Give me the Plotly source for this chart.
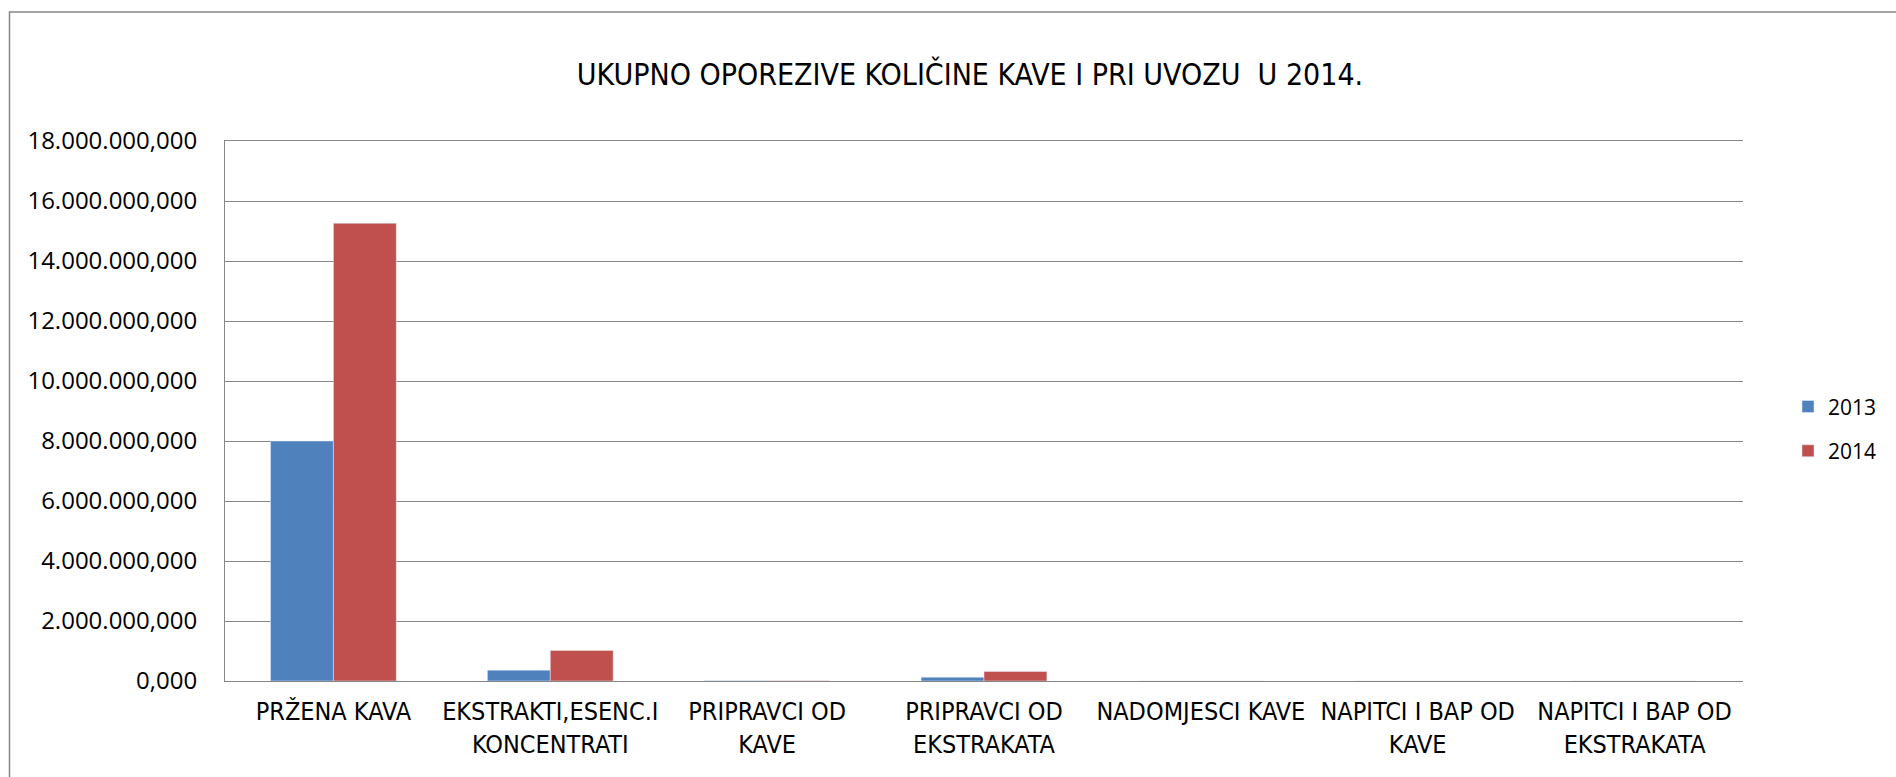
import plotly.graph_objects as go

categories = ["PRŽENA KAVA", "EKSTRAKTI,ESENC.I<br>KONCENTRATI", "PRIPRAVCI OD<br>KAVE",
              "PRIPRAVCI OD<br>EKSTRAKATA", "NADOMJESCI KAVE", "NAPITCI I BAP OD<br>KAVE",
              "NAPITCI I BAP OD<br>EKSTRAKATA"]
values_2013 = [8.0e9, 0.36e9, 5e6, 0.125e9, 0, 0, 0]
values_2014 = [15.26e9, 1.02e9, 8e6, 0.315e9, 0, 0, 0]
tick_vals = [0, 2e9, 4e9, 6e9, 8e9, 10e9, 12e9, 14e9, 16e9, 18e9]
tick_text = ["0,000", "2.000.000,000", "4.000.000,000", "6.000.000,000", "8.000.000,000",
             "10.000.000,000", "12.000.000,000", "14.000.000,000", "16.000.000,000",
             "18.000.000,000"]

narrow = "Liberation Sans Narrow, DejaVu Sans Condensed, Arial Narrow, sans-serif"

fig = go.Figure()
fig.add_trace(go.Bar(x=categories, y=values_2013, name="2013", marker_color="#4F81BD",
                     legendgroup="a"))
fig.add_trace(go.Bar(x=categories, y=values_2014, name="2014", marker_color="#C0504D",
                     legendgroup="b"))

fig.update_layout(
    width=1896, height=777,
    paper_bgcolor="white", plot_bgcolor="white",
    margin=dict(l=225, r=153, t=141, b=96, autoexpand=False),
    barmode="group", bargap=0.42, bargroupgap=0,
    title=dict(text="UKUPNO OPOREZIVE KOLIČINE KAVE I PRI UVOZU  U 2014.",
               x=970 / 1896, xanchor="center", y=1 - 74 / 777, yanchor="middle",
               font=dict(family=narrow, size=30, color="black")),
    font=dict(family="Open Sans", color="black"),
    legend=dict(xref="container", x=1788 / 1896, xanchor="left", y=0.467, yanchor="middle",
                font=dict(family="Open Sans", size=21), tracegroupgap=14,
                traceorder="grouped", itemwidth=30),
    showlegend=True,
)
fig.update_xaxes(
    showline=True, linecolor="#868686", linewidth=1, showgrid=False, mirror=True,
    tickfont=dict(family=narrow, size=25, color="black"),
    ticks="", ticklabelstandoff=8,
)
fig.update_yaxes(
    range=[0, 18e9], tickvals=tick_vals, ticktext=tick_text,
    showline=True, linecolor="#868686", linewidth=1,
    showgrid=True, gridcolor="#868686", gridwidth=1, zeroline=False,
    tickfont=dict(family="Open Sans", size=24, color="black"),
    ticks="", ticklabelstandoff=22,
)
fig.add_shape(type="rect", xref="paper", yref="paper",
              x0=(9.5 - 225) / 1518, x1=(1905 - 225) / 1518,
              y0=-(800 - 681) / 540, y1=(681 - 12) / 540,
              line=dict(color="#868686", width=1.5), fillcolor="rgba(0,0,0,0)", layer="below")

fig.write_html("out.html", config={"displayModeBar": False},
               post_script="document.body.style.margin='0';document.body.style.overflow='hidden';")
